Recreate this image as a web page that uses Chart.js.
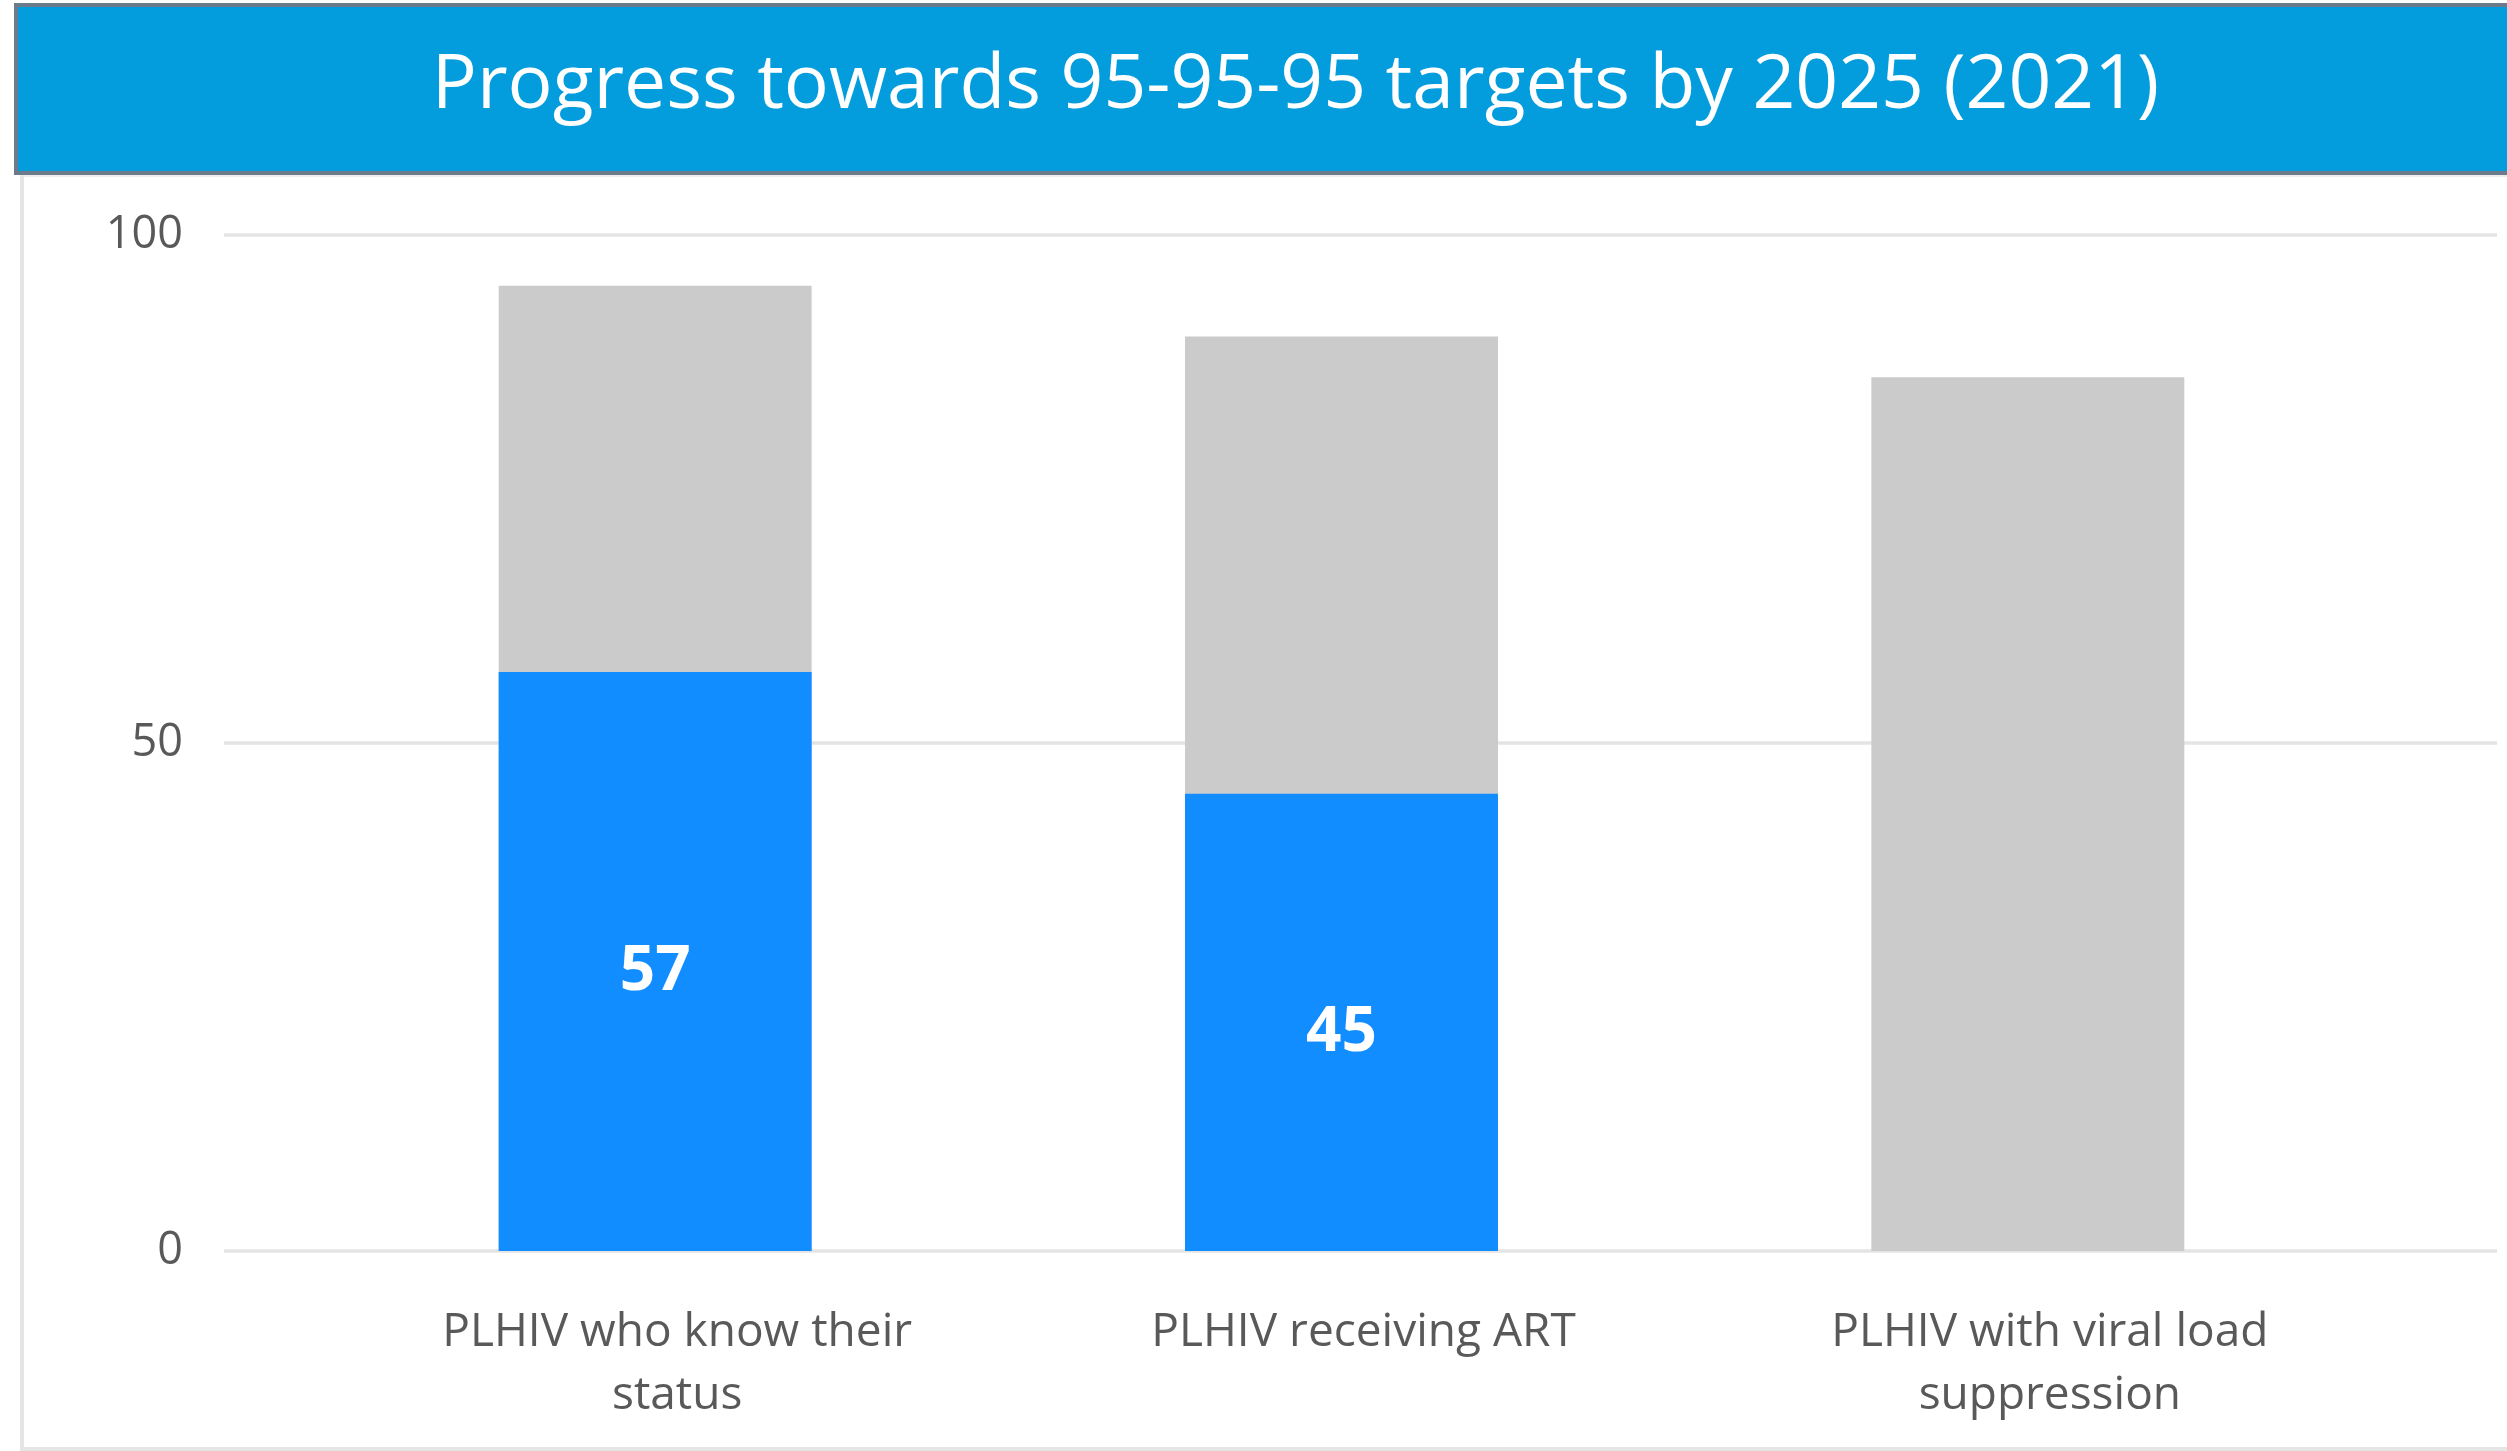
<!DOCTYPE html>
<html>
<head>
<meta charset="utf-8">
<script src="https://cdn.jsdelivr.net/npm/chart.js@4.4.0/dist/chart.umd.min.js"></script>
<style>
  html, body { margin: 0; padding: 0; background: #fff; overflow: hidden; }
  body { width: 2507px; height: 1451px; position: relative; font-family: "Open Sans", sans-serif; }
  #frame {
    position: absolute; left: 20px; top: 175px; width: 2600px; height: 1270px;
    border-left: 4px solid #e5e5e5; border-bottom: 4px solid #e5e5e5; border-top: 2px solid #ececec;
  }
  #title {
    position: absolute; left: 14px; top: 3px; width: 2600px; height: 164px;
    border: 4px solid #6b7b89; background: #039dde; color: #fff;
  }
  #title span {
    position: absolute; left: 0; width: 2555px; top: 22px; text-align: center;
    font-size: 75px; line-height: 100px; white-space: nowrap;
  }
  #wrap { position: absolute; left: 0; top: 0; width: 2507px; height: 1451px; }
</style>
</head>
<body>
<div id="frame"></div>
<div id="title"><span>Progress towards 95-95-95 targets by 2025 (2021)</span></div>
<div id="wrap"><canvas id="chart" width="2507" height="1451"></canvas></div>
<script>
const categories = [["PLHIV who know their", "status"], ["PLHIV receiving ART"], ["PLHIV with viral load", "suppression"]];
const targetValues = [95, 90, 86];
const achievedValues = [57, 45, null];
const yTicks = [0, 50, 100];

// grid lines run wider than the bar area, as in the original
const wideGrid = {
  id: 'wideGrid',
  beforeDatasetsDraw(chart) {
    const { ctx, chartArea, scales } = chart;
    ctx.save();
    ctx.strokeStyle = '#e4e4e4';
    ctx.lineWidth = 3.5;
    yTicks.forEach(t => {
      const y = Math.round(scales.y.getPixelForValue(t));
      ctx.beginPath();
      ctx.moveTo(chartArea.left - 88, y);
      ctx.lineTo(chartArea.right + 126, y);
      ctx.stroke();
    });
    ctx.restore();
  }
};

const barLabels = {
  id: 'barLabels',
  afterDatasetsDraw(chart) {
    const { ctx } = chart;
    const meta = chart.getDatasetMeta(0);
    ctx.save();
    ctx.fillStyle = '#fff';
    ctx.font = 'bold 62px "Open Sans"';
    ctx.textAlign = 'center';
    ctx.textBaseline = 'middle';
    meta.data.forEach((bar, i) => {
      const v = achievedValues[i];
      if (v == null) return;
      ctx.fillText(String(v), bar.x, (bar.y + bar.base) / 2 + 11);
    });
    ctx.restore();
  }
};

var ctx = document.getElementById('chart').getContext('2d');
var myChart = new Chart(ctx, {
  type: 'bar',
  data: {
    labels: categories,
    datasets: [{
      label: 'Achieved',
      data: achievedValues,
      backgroundColor: '#128dff'
    }, {
      label: 'Target',
      data: targetValues,
      backgroundColor: '#cbcbcb'
    }]
  },
  options: {
    responsive: false,
    animation: false,
    devicePixelRatio: 1,
    layout: { padding: { left: 30, right: 136, top: 235, bottom: 0 } },
    datasets: { bar: { categoryPercentage: 1, barPercentage: 0.456 } },
    plugins: { legend: { display: false }, title: { display: false }, tooltip: { enabled: false } },
    scales: {
      x: {
        stacked: true,
        grid: { display: false, drawTicks: false },
        border: { display: false },
        ticks: {
          color: '#595959', font: { family: 'Open Sans', size: 46, lineHeight: 63 / 46 },
          padding: 50, labelOffset: 22, maxRotation: 0, autoSkip: false
        },
        afterFit(scale) { scale.height = 200; }
      },
      y: {
        stacked: false,
        min: 0, max: 100,
        grid: { display: false, drawTicks: false },
        border: { display: false },
        ticks: {
          stepSize: 50, color: '#595959', padding: 129,
          font: { family: 'Open Sans', size: 45 }
        },
        afterFit(scale) { scale.width = 282; }
      }
    }
  },
  plugins: [wideGrid, barLabels]
});
</script>
</body>
</html>
